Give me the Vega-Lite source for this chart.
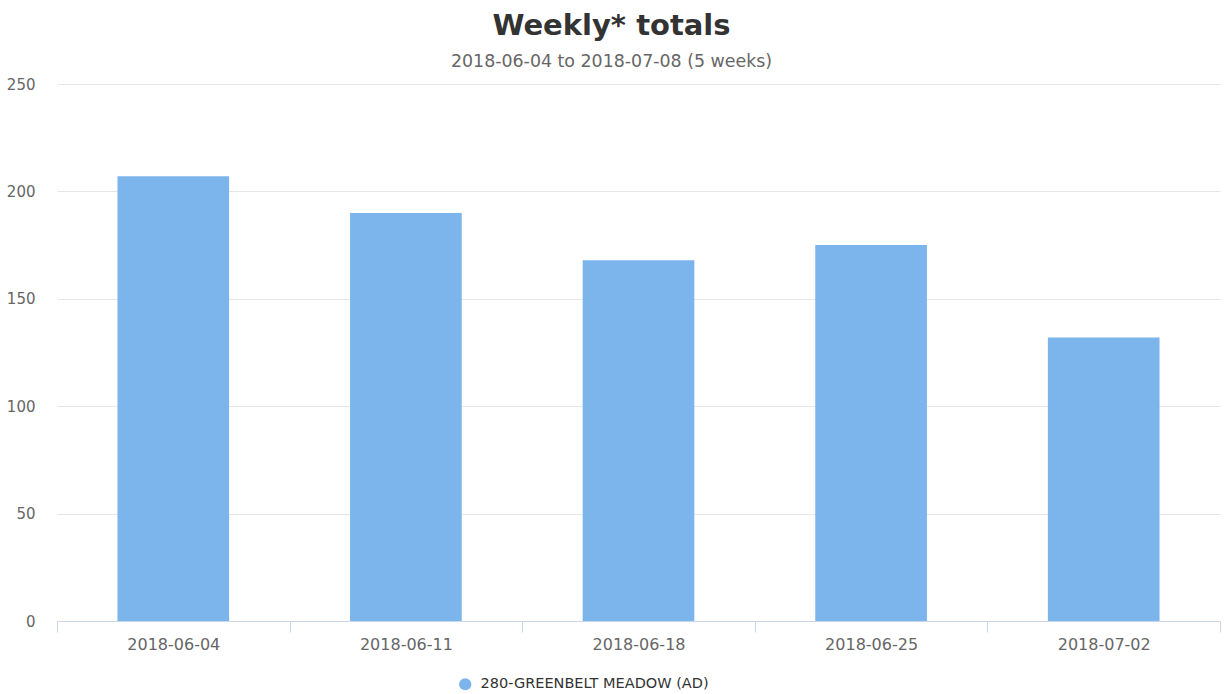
{
  "$schema": "https://vega.github.io/schema/vega-lite/v6.json",
  "autosize": "none",
  "width": 1163,
  "height": 537,
  "padding": {"left": 57, "top": 84, "right": 5, "bottom": 73},
  "background": "#ffffff",
  "title": {
    "text": "Weekly* totals",
    "subtitle": "2018-06-04 to 2018-07-08 (5 weeks)",
    "anchor": "middle",
    "frame": "group",
    "dx": -27,
    "font": "DejaVu Sans",
    "fontSize": 29,
    "fontWeight": "bold",
    "color": "#333333",
    "subtitleFont": "DejaVu Sans",
    "subtitleFontSize": 17.4,
    "subtitleColor": "#666666",
    "subtitlePadding": 12,
    "offset": 7
  },
  "data": {
    "values": [
      {"week": "2018-06-04", "total": 207, "series": "280-GREENBELT MEADOW (AD)"},
      {"week": "2018-06-11", "total": 190, "series": "280-GREENBELT MEADOW (AD)"},
      {"week": "2018-06-18", "total": 168, "series": "280-GREENBELT MEADOW (AD)"},
      {"week": "2018-06-25", "total": 175, "series": "280-GREENBELT MEADOW (AD)"},
      {"week": "2018-07-02", "total": 132, "series": "280-GREENBELT MEADOW (AD)"}
    ]
  },
  "mark": {"type": "bar", "width": {"band": 0.48}},
  "encoding": {
    "x": {
      "field": "week",
      "type": "nominal",
      "sort": null,
      "scale": {"paddingInner": 0, "paddingOuter": 0},
      "axis": {
        "title": null,
        "labelAngle": 0,
        "labelFont": "DejaVu Sans",
        "labelFontSize": 16,
        "labelColor": "#666666",
        "labelPadding": 4,
        "tickBand": "extent",
        "tickSize": 11,
        "tickColor": "#ccd6eb",
        "domainColor": "#ccd6eb",
        "grid": false
      }
    },
    "y": {
      "field": "total",
      "type": "quantitative",
      "scale": {"domain": [0, 250], "nice": false},
      "axis": {
        "title": null,
        "values": [0, 50, 100, 150, 200, 250],
        "labelFont": "DejaVu Sans",
        "labelFontSize": 15,
        "labelColor": "#666666",
        "labelPadding": 22,
        "ticks": false,
        "domain": false,
        "gridColor": "#e6e6e6",
        "gridWidth": 1
      }
    },
    "color": {
      "field": "series",
      "type": "nominal",
      "scale": {"range": ["#7cb5ec"]},
      "legend": {
        "title": null,
        "orient": "none",
        "legendX": 401,
        "legendY": 593,
        "symbolType": "circle",
        "symbolSize": 150,
        "symbolStrokeWidth": 0,
        "labelFont": "DejaVu Sans",
        "labelFontSize": 14.5,
        "labelColor": "#333333",
        "labelOffset": 8,
        "labelLimit": 0
      }
    }
  },
  "config": {
    "view": {"stroke": null}
  }
}
